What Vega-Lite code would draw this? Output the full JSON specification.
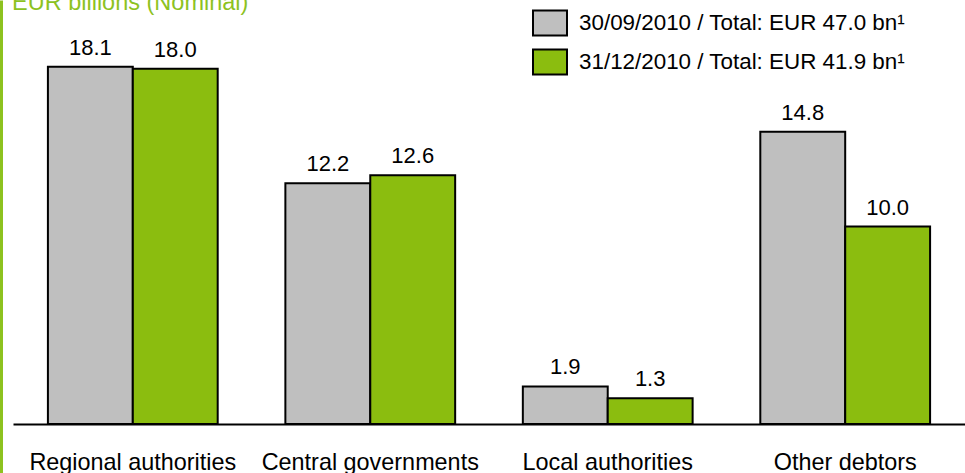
{
  "$schema": "https://vega.github.io/schema/vega-lite/v6.json",
  "width": 952,
  "height": 473,
  "autosize": {"type": "none"},
  "padding": {"left": 13, "top": 0, "right": 0, "bottom": 0},
  "background": "white",
  "title": {
    "text": "EUR billions (Nominal)",
    "anchor": "start",
    "frame": "group",
    "orient": "top",
    "offset": 0,
    "dy": 33,
    "baseline": "alphabetic",
    "fontSize": 23.5,
    "fontWeight": "normal",
    "font": "Liberation Sans",
    "color": "#8dc21f",
    "dx": -1
  },
  "config": {
    "view": {"stroke": null},
    "font": "Liberation Sans"
  },
  "data": {
    "values": [
      {"category": "Regional authorities", "series": "30/09/2010 / Total: EUR 47.0 bn¹", "value": 18.1},
      {"category": "Regional authorities", "series": "31/12/2010 / Total: EUR 41.9 bn¹", "value": 18.0},
      {"category": "Central governments", "series": "30/09/2010 / Total: EUR 47.0 bn¹", "value": 12.2},
      {"category": "Central governments", "series": "31/12/2010 / Total: EUR 41.9 bn¹", "value": 12.6},
      {"category": "Local authorities", "series": "30/09/2010 / Total: EUR 47.0 bn¹", "value": 1.9},
      {"category": "Local authorities", "series": "31/12/2010 / Total: EUR 41.9 bn¹", "value": 1.3},
      {"category": "Other debtors", "series": "30/09/2010 / Total: EUR 47.0 bn¹", "value": 14.8},
      {"category": "Other debtors", "series": "31/12/2010 / Total: EUR 41.9 bn¹", "value": 10.0}
    ]
  },
  "encoding": {
    "x": {
      "field": "category",
      "type": "nominal",
      "sort": null,
      "scale": {"paddingInner": 0.285, "paddingOuter": 0.147},
      "axis": {
        "title": null,
        "orient": "bottom",
        "offset": -49,
        "domainColor": "black",
        "domainWidth": 2,
        "ticks": false,
        "labelAngle": 0,
        "labelFontSize": 23.4,
        "labelColor": "black",
        "labelBaseline": "alphabetic",
        "labelPadding": 45,
        "labelLimit": 400,
        "labelFont": "Liberation Sans"
      }
    },
    "xOffset": {"field": "series", "type": "nominal", "sort": null},
    "y": {
      "field": "value",
      "type": "quantitative",
      "scale": {"domain": [-2.482, 21.479], "nice": false, "zero": false},
      "axis": {
        "title": null,
        "orient": "left",
        "offset": 12,
        "domainColor": "#8dc21f",
        "domainWidth": 3,
        "ticks": false,
        "labels": false,
        "grid": false
      }
    }
  },
  "layer": [
    {
      "mark": {"type": "bar", "stroke": "black", "strokeWidth": 2},
      "encoding": {
        "color": {
          "field": "series",
          "type": "nominal",
          "sort": null,
          "scale": {"range": ["#bfbfbf", "#8bbd0f"]},
          "legend": {
            "title": null,
            "orient": "none",
            "legendX": 519,
            "legendY": 5,
            "padding": 0,
            "symbolType": "M-1,-0.735H1V0.735H-1Z",
            "symbolSize": 1156,
            "symbolStrokeColor": "black",
            "symbolStrokeWidth": 2,
            "symbolOpacity": 1,
            "labelFontSize": 22.4,
            "labelColor": "black",
            "labelFont": "Liberation Sans",
            "labelOffset": 11,
            "labelLimit": 500,
            "rowPadding": 4
          }
        }
      }
    },
    {
      "mark": {"type": "text", "baseline": "alphabetic", "dy": -12, "fontSize": 22, "color": "black", "font": "Liberation Sans"},
      "encoding": {
        "text": {"field": "value", "type": "quantitative", "format": ".1f"}
      }
    }
  ]
}
